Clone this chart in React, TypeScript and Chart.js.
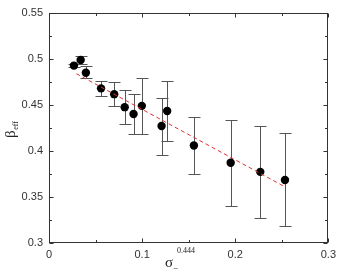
import React, { useEffect, useRef } from "react";
import { Chart, registerables } from "chart.js";

Chart.register(...registerables);

// Measured points: sigma_-^0.444 vs beta_eff
const xValues = [0.0268, 0.034, 0.0396, 0.0559, 0.07, 0.0813, 0.0908, 0.0997, 0.1209, 0.1269, 0.1556, 0.1951, 0.2269, 0.2534];
const yValues = [0.4925, 0.4985, 0.4848, 0.4678, 0.4615, 0.4474, 0.44, 0.4488, 0.4269, 0.4432, 0.4058, 0.3871, 0.3772, 0.3684];
const yHigh = [0.4945, 0.5024, 0.4918, 0.4763, 0.4749, 0.4661, 0.4618, 0.4788, 0.4576, 0.476, 0.4365, 0.4336, 0.4273, 0.4195];
const yLow = [0.4905, 0.4945, 0.4788, 0.4597, 0.4484, 0.4291, 0.4181, 0.4178, 0.3959, 0.4107, 0.3744, 0.3406, 0.3272, 0.318];

// Linear fit line endpoints
const fitX = [0.0294, 0.2526];
const fitY = [0.4837, 0.3614];

// Axis ticks
const xTickValues = [0, 0.1, 0.2, 0.3];
const xTickLabels = ["0", "0.1", "0.2", "0.3"];
const xMinorTicks = [0.05, 0.15, 0.25];
const yTickValues = [0.3, 0.35, 0.4, 0.45, 0.5, 0.55];
const yTickLabels = ["0.3", "0.35", "0.4", "0.45", "0.5", "0.55"];
const yMinorTicks = [0.325, 0.375, 0.425, 0.475, 0.525];

const errorBarPlugin = {
  id: "errorBars",
  beforeDatasetsDraw(chart: any) {
    const ctx = chart.ctx;
    const xs = chart.scales.x;
    const ys = chart.scales.y;
    ctx.save();
    ctx.strokeStyle = "#555";
    ctx.lineWidth = 1;
    const cap = 6;
    for (let i = 0; i < xValues.length; i++) {
      const px = Math.round(xs.getPixelForValue(xValues[i])) + 0.5;
      const pHi = Math.round(ys.getPixelForValue(yHigh[i])) + 0.5;
      const pLo = Math.round(ys.getPixelForValue(yLow[i])) + 0.5;
      ctx.beginPath();
      ctx.moveTo(px, pHi);
      ctx.lineTo(px, pLo);
      ctx.moveTo(px - cap, pHi);
      ctx.lineTo(px + cap, pHi);
      ctx.moveTo(px - cap, pLo);
      ctx.lineTo(px + cap, pLo);
      ctx.stroke();
    }
    ctx.restore();
  },
};

const framePlugin = {
  id: "frame",
  afterDraw(chart: any) {
    const ctx = chart.ctx;
    const { left, right, top, bottom } = chart.chartArea;
    const xs = chart.scales.x;
    const ys = chart.scales.y;
    ctx.save();
    ctx.strokeStyle = "#333";
    ctx.lineWidth = 1;
    const L = Math.round(left) + 0.5;
    const R = Math.round(right) - 0.5;
    const T = Math.round(top) + 0.5;
    const B = Math.round(bottom) - 0.5;
    ctx.strokeRect(L, T, R - L, B - T);
    ctx.beginPath();
    const major = 4;
    const minor = 2.5;
    const xt = (v: number, len: number) => {
      const p = Math.round(xs.getPixelForValue(v)) + 0.5;
      ctx.moveTo(p, B);
      ctx.lineTo(p, B - len);
      ctx.moveTo(p, T);
      ctx.lineTo(p, T + len);
    };
    const yt = (v: number, len: number) => {
      const p = Math.round(ys.getPixelForValue(v)) + 0.5;
      ctx.moveTo(L, p);
      ctx.lineTo(L + len, p);
      ctx.moveTo(R, p);
      ctx.lineTo(R - len, p);
    };
    xTickValues.forEach((v) => xt(v, major));
    xMinorTicks.forEach((v) => xt(v, minor));
    yTickValues.forEach((v) => yt(v, major));
    yMinorTicks.forEach((v) => yt(v, minor));
    ctx.stroke();

    // Axis titles
    ctx.fillStyle = "#222";
    ctx.textBaseline = "alphabetic";
    ctx.textAlign = "left";
    // y title: beta_eff, rotated
    ctx.save();
    ctx.translate(15, 138);
    ctx.rotate(-Math.PI / 2);
    ctx.font = '15px "Liberation Serif", serif';
    ctx.fillText("β", 0, 0);
    const bw = ctx.measureText("β").width;
    ctx.font = '8px "Liberation Serif", serif';
    ctx.fillText("eff", bw + 0.5, 3);
    ctx.restore();
    // x title: sigma_-^0.444
    ctx.font = '15px "Liberation Serif", serif';
    ctx.fillText("σ", 165, 267);
    const sw = ctx.measureText("σ").width;
    ctx.font = '9px "Liberation Serif", serif';
    ctx.fillText("−", 165 + sw, 271);
    ctx.font = '8px "Liberation Serif", serif';
    ctx.fillText("0.444", 165 + sw + 4, 253);
    ctx.restore();
  },
};

export default function App() {
  const ref = useRef<HTMLCanvasElement>(null);
  useEffect(() => {
    document.body.style.margin = "0";
    const canvas = ref.current;
    if (!canvas) return;
    const chart = new Chart(canvas, {
      type: "scatter",
      data: {
        datasets: [
          {
            type: "line",
            data: fitX.map((x, i) => ({ x, y: fitY[i] })),
            borderColor: "#e03030",
            borderWidth: 1,
            borderDash: [4, 3],
            pointRadius: 0,
            fill: false,
          } as any,
          {
            data: xValues.map((x, i) => ({ x, y: yValues[i] })),
            backgroundColor: "#000",
            borderColor: "#000",
            pointRadius: 4.2,
            pointBorderWidth: 0,
          },
        ],
      },
      options: {
        responsive: false,
        animation: false,
        layout: { padding: { left: 0, top: 7, right: 9, bottom: 0 } },
        plugins: { legend: { display: false }, tooltip: { enabled: false } },
        scales: {
          x: {
            type: "linear",
            min: 0,
            max: 0.3,
            grid: { display: false, drawTicks: false },
            border: { display: false },
            afterFit: (s: any) => {
              s.height = 27;
            },
            afterBuildTicks: (s: any) => {
              s.ticks = xTickValues.map((v) => ({ value: v }));
            },
            ticks: {
              padding: 5,
              color: "#333",
              font: { family: '"Liberation Sans", Arial, sans-serif', size: 11 },
              maxRotation: 0,
              callback: (v: any) => {
                const i = xTickValues.indexOf(Number(v));
                return i >= 0 ? xTickLabels[i] : "";
              },
            },
          },
          y: {
            type: "linear",
            min: 0.3,
            max: 0.55,
            grid: { display: false, drawTicks: false },
            border: { display: false },
            afterFit: (s: any) => {
              s.width = 49;
            },
            afterBuildTicks: (s: any) => {
              s.ticks = yTickValues.map((v) => ({ value: v }));
            },
            ticks: {
              padding: 6,
              color: "#333",
              font: { family: '"Liberation Sans", Arial, sans-serif', size: 11 },
              callback: (v: any) => {
                const i = yTickValues.findIndex((t) => Math.abs(t - Number(v)) < 1e-9);
                return i >= 0 ? yTickLabels[i] : "";
              },
            },
          },
        },
      },
      plugins: [errorBarPlugin, framePlugin],
    });
    return () => chart.destroy();
  }, []);
  return (
    <div style={{ position: "absolute", left: 0, top: 0, width: 341, height: 270 }}>
      <canvas ref={ref} width={341} height={270} style={{ display: "block" }} />
    </div>
  );
}
